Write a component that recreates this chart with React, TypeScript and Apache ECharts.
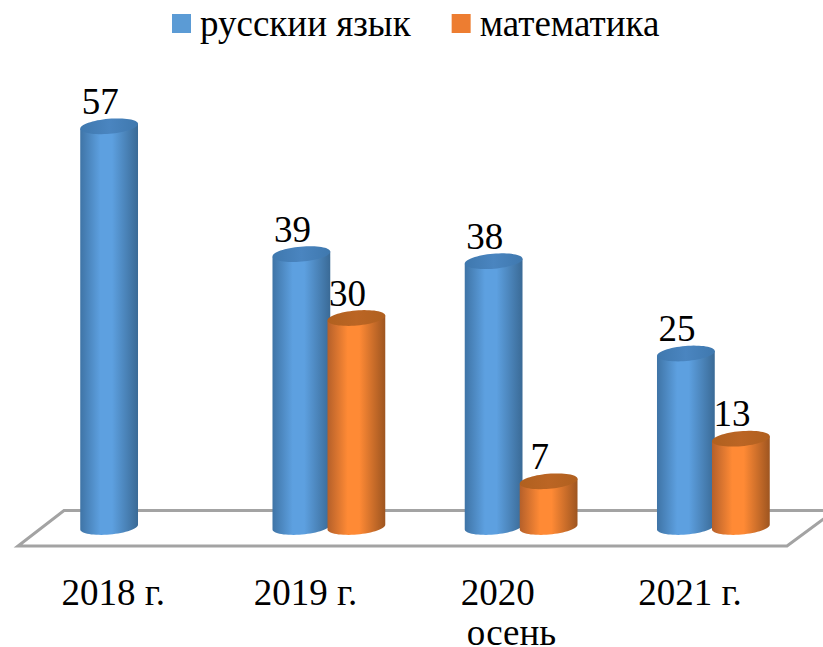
import React, { useEffect, useRef } from "react";
import * as echarts from "echarts";

const categories = ["2018 г.", "2019 г.", "2020\n\u00a0\u00a0\u00a0осень", "2021 г."];
const russianName = "русскии язык";
const mathName = "математика";
const russianValues = [57, 39, 38, 25];
const mathValues: (number | null)[] = [null, 30, 7, 13];

const FONT = '"Liberation Serif", "Times New Roman", serif';
const HALF_W = 29;
const HALF_H = 7.5;
const TILT = (-5 * Math.PI) / 180;

function ellipsePoint(cx: number, cy: number, t: number): number[] {
  const ax = HALF_W * Math.cos(t);
  const ay = HALF_H * Math.sin(t);
  return [
    cx + ax * Math.cos(TILT) - ay * Math.sin(TILT),
    cy + ax * Math.sin(TILT) + ay * Math.cos(TILT),
  ];
}

function cylinder(offsetX: number, stops: string[], topStops: string[]) {
  return (params: any, api: any) => {
    const value = api.value(1);
    const top = api.coord([api.value(0), value]);
    const base = api.coord([api.value(0), 0]);
    const cx = top[0] + offsetX;
    const bottomY = base[1] - 4;
    const points: number[][] = [];
    const steps = 32;
    for (let i = 0; i <= steps; i++) {
      points.push(ellipsePoint(cx, bottomY, (Math.PI * i) / steps));
    }
    points.push(ellipsePoint(cx, top[1], Math.PI));
    points.push(ellipsePoint(cx, top[1], 0));
    const cap: number[][] = [];
    for (let i = 0; i < 64; i++) {
      cap.push(ellipsePoint(cx, top[1], (2 * Math.PI * i) / 64));
    }
    const bodyFill = new echarts.graphic.LinearGradient(0, 0, 1, 0, [
      { offset: 0, color: stops[0] },
      { offset: 0.35, color: stops[1] },
      { offset: 0.55, color: stops[1] },
      { offset: 1, color: stops[2] },
    ]);
    const capFill = new echarts.graphic.LinearGradient(0, 0, 1, 0, [
      { offset: 0, color: topStops[0] },
      { offset: 0.5, color: topStops[1] },
      { offset: 1, color: topStops[0] },
    ]);
    return {
      type: "group",
      children: [
        { type: "polygon", shape: { points }, style: { fill: bodyFill } },
        { type: "polygon", shape: { points: cap }, style: { fill: capFill } },
        {
          type: "text",
          x: cx - 9,
          y: top[1] - 25,
          style: {
            text: String(value),
            font: `37px ${FONT}`,
            fill: "#000",
            align: "center",
            verticalAlign: "middle",
          },
        },
      ],
    };
  };
}

export default function App() {
  const ref = useRef<HTMLDivElement>(null);
  useEffect(() => {
    const chart = echarts.init(ref.current!, null, { renderer: "svg" });
    chart.setOption({
      animation: false,
      backgroundColor: "#fff",
      legend: {
        left: 167,
        top: 0,
        itemWidth: 19,
        itemHeight: 19,
        itemGap: 41,
        icon: "rect",
        textStyle: { fontFamily: FONT, fontSize: 37, color: "#000", padding: [0, 0, 0, 4] },
        data: [russianName, mathName],
      },
      grid: { left: 17, right: 37, top: 105, bottom: 116, outerBoundsMode: "none" },
      xAxis: {
        type: "category",
        data: categories,
        axisLine: { show: false },
        axisTick: { show: false },
        axisLabel: {
          fontFamily: FONT,
          fontSize: 37,
          lineHeight: 40,
          color: "#000",
          margin: 41,
          interval: 0,
        },
      },
      yAxis: { type: "value", min: 0, max: 60, interval: 10, show: false },
      graphic: [
        {
          type: "polygon",
          z: -1,
          shape: { points: [[64, 510.5], [835, 510.5], [787, 546], [18, 546]] },
          style: { fill: "#fff", stroke: "#a3a3a3", lineWidth: 3 },
        },
      ],
      series: [
        {
          name: russianName,
          type: "custom",
          itemStyle: { color: "#5b9bd5" },
          renderItem: cylinder(-4, ["#3f74a6", "#5da0e0", "#3a6a96"], ["#3f78ae", "#4a85c0"]),
          encode: { x: 0, y: 1 },
          data: russianValues.map((v, i) => [i, v]),
        },
        {
          name: mathName,
          type: "custom",
          itemStyle: { color: "#ed7d31" },
          renderItem: cylinder(51, ["#b5602a", "#ff8a35", "#9e5520"], ["#b0601f", "#bb6524"]),
          encode: { x: 0, y: 1 },
          data: mathValues.map((v, i) => [i, v]).filter((d) => d[1] !== null),
        },
      ],
    });
    return () => chart.dispose();
  }, []);
  return <div ref={ref} style={{ position: "fixed", left: 0, top: 0, width: 823, height: 647 }} />;
}
